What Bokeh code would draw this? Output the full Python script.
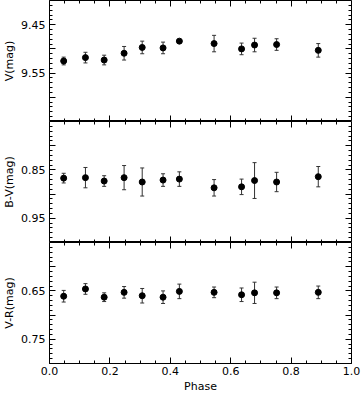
import numpy as np
from bokeh.plotting import figure
from bokeh.layouts import column
from bokeh.models import Range1d, LinearAxis, FixedTicker, Whisker, TeeHead, ColumnDataSource
from bokeh.embed import file_html
from bokeh.resources import INLINE

# ---- data ----
phase = [0.047, 0.119, 0.181, 0.247, 0.307, 0.376, 0.430, 0.545, 0.636, 0.679, 0.752, 0.890]

v_mag = [9.525, 9.518, 9.523, 9.509, 9.497, 9.498, 9.484, 9.489, 9.500, 9.492, 9.491, 9.503]
v_err = [0.008, 0.011, 0.010, 0.014, 0.013, 0.012, 0.001, 0.017, 0.012, 0.014, 0.012, 0.014]

bv_mag = [0.867, 0.866, 0.873, 0.866, 0.875, 0.871, 0.869, 0.887, 0.885, 0.872, 0.875, 0.864]
bv_err = [0.010, 0.021, 0.011, 0.025, 0.029, 0.013, 0.015, 0.017, 0.016, 0.037, 0.020, 0.021]

vr_mag = [0.661, 0.646, 0.663, 0.653, 0.660, 0.663, 0.651, 0.653, 0.658, 0.654, 0.654, 0.653]
vr_err = [0.012, 0.011, 0.009, 0.012, 0.015, 0.013, 0.015, 0.011, 0.014, 0.022, 0.012, 0.013]

# ---- axes ----
x_range = (0.0, 1.0)
x_ticks = [0.0, 0.2, 0.4, 0.6, 0.8, 1.0]
x_tick_labels = ["0.0", "0.2", "0.4", "0.6", "0.8", "1.0"]
x_title = "Phase"

v_range = (9.40, 9.65)
v_ticks = [9.45, 9.50, 9.55, 9.60]
v_tick_labels = ["9.45", "", "9.55", ""]
v_title = "V(mag)"

bv_range = (0.75, 1.00)
bv_ticks = [0.80, 0.85, 0.90, 0.95]
bv_tick_labels = ["", "0.85", "", "0.95"]
bv_title = "B-V(mag)"

vr_range = (0.55, 0.80)
vr_ticks = [0.60, 0.65, 0.70, 0.75]
vr_tick_labels = ["", "0.65", "", "0.75"]
vr_title = "V-R(mag)"

FONT = "DejaVu Sans"
FS = "11px"


def style_axis(ax, show_labels):
    ax.axis_line_color = None
    ax.major_tick_in = 6
    ax.major_tick_out = 0
    ax.minor_tick_in = 3
    ax.minor_tick_out = 0
    ax.major_tick_line_color = "black"
    ax.minor_tick_line_color = "black"
    ax.major_label_text_font = FONT
    ax.major_label_text_font_size = FS
    ax.major_label_text_color = "black"
    ax.axis_label_text_font = FONT
    ax.axis_label_text_font_size = FS
    ax.axis_label_text_font_style = "normal"
    ax.axis_label_text_color = "black"
    if not show_labels:
        ax.major_label_text_color = None
        ax.major_label_standoff = 0
        ax.axis_label_standoff = 0


def x_ticker():
    minor = [round(v, 3) for v in np.arange(x_range[0], x_range[1] + 1e-9, 0.05)]
    return FixedTicker(ticks=x_ticks, minor_ticks=minor)


def y_ticker(yr, ticks):
    minor = [round(v, 3) for v in np.arange(yr[0], yr[1] + 1e-9, 0.01)]
    return FixedTicker(ticks=ticks, minor_ticks=minor)


def panel(yvals, yerr, yr, ticks, tick_labels, title, bottom):
    p = figure(frame_width=302, frame_height=121,
               x_range=Range1d(*x_range), y_range=Range1d(yr[1], yr[0]),
               x_axis_location=None, y_axis_location=None,
               output_backend="svg", toolbar_location=None,
               min_border_left=49, min_border_right=10,
               min_border_top=0, min_border_bottom=0)
    p.grid.visible = False
    p.outline_line_color = "black"
    p.outline_line_width = 1
    p.background_fill_color = "white"
    p.border_fill_color = "white"

    overrides = {t: l for t, l in zip(ticks, tick_labels)}

    left = LinearAxis(ticker=y_ticker(yr, ticks), axis_label=title,
                      major_label_overrides=overrides)
    style_axis(left, True)
    left.major_label_standoff = 4
    left.axis_label_standoff = 2
    p.add_layout(left, "left")

    # tick-only axes pinned to the frame edges (take no layout space)
    right = LinearAxis(ticker=y_ticker(yr, ticks), fixed_location=x_range[1])
    style_axis(right, False)
    p.add_layout(right, "right")

    top = LinearAxis(ticker=x_ticker(), fixed_location=yr[0])
    style_axis(top, False)
    p.add_layout(top, "above")

    if bottom:
        xo = {t: l for t, l in zip(x_ticks, x_tick_labels)}
        b = LinearAxis(ticker=x_ticker(), axis_label=x_title, major_label_overrides=xo)
        style_axis(b, True)
        b.major_label_standoff = 3
        b.axis_label_standoff = 2
        p.add_layout(b, "below")
    else:
        b = LinearAxis(ticker=x_ticker(), fixed_location=yr[1])
        style_axis(b, False)
        p.add_layout(b, "below")

    src = ColumnDataSource(dict(
        x=phase, y=yvals,
        upper=[a + e for a, e in zip(yvals, yerr)],
        lower=[a - e for a, e in zip(yvals, yerr)],
    ))
    w = Whisker(source=src, base="x", upper="upper", lower="lower",
                line_color="#333333", line_width=1,
                upper_head=TeeHead(size=4, line_color="#333333", line_width=1),
                lower_head=TeeHead(size=4, line_color="#333333", line_width=1))
    p.add_layout(w)
    p.scatter("x", "y", source=src, marker="circle", size=6,
              fill_color="black", line_color="black")
    return p


p1 = panel(v_mag, v_err, v_range, v_ticks, v_tick_labels, v_title, False)
p2 = panel(bv_mag, bv_err, bv_range, bv_ticks, bv_tick_labels, bv_title, False)
p3 = panel(vr_mag, vr_err, vr_range, vr_ticks, vr_tick_labels, vr_title, True)

layout = column(p1, p2, p3, spacing=0,
                styles={"position": "absolute", "left": "0px", "top": "0px"})

open("out.html", "w").write(file_html(layout, INLINE))
